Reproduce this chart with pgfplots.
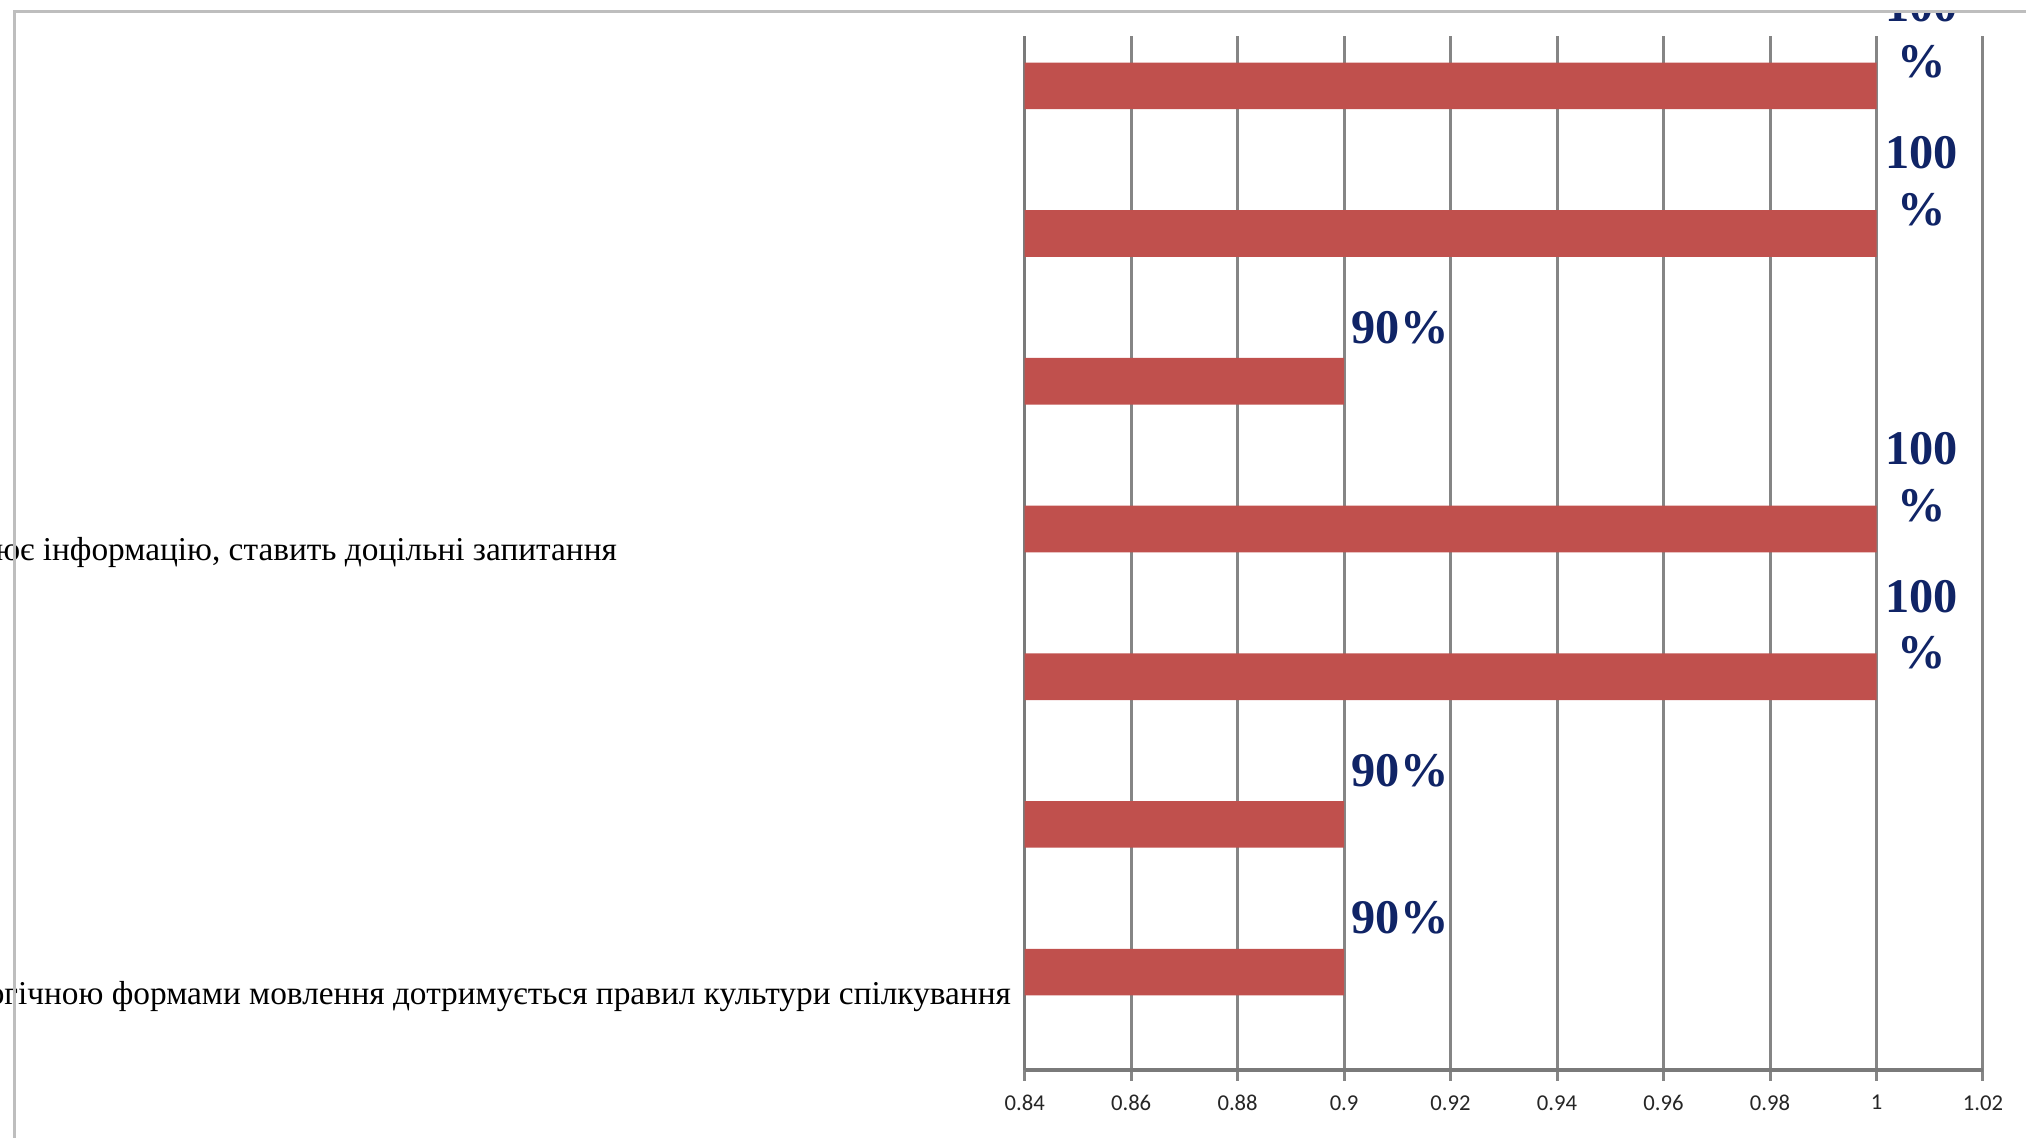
\documentclass[border=0pt]{standalone}
\usepackage{pgfplots}
\pgfplotsset{compat=1.18}
\usepackage{fontspec}
\setmainfont{Liberation Serif}
\newfontfamily\carlito{Carlito}
\definecolor{barred}{HTML}{C0504D}
\definecolor{lblnavy}{RGB}{16,36,102}
\definecolor{gridgray}{HTML}{858585}
\definecolor{axisgray}{HTML}{7A7A7A}
\definecolor{framegray}{HTML}{BEBEBE}
\begin{document}
\begin{tikzpicture}
\path[use as bounding box] (0pt,0pt) rectangle (607.8pt,341.4pt);
\clip (0pt,0pt) rectangle (607.8pt,341.4pt);
\begin{axis}[
  at={(307.4pt,20.4pt)}, anchor=south west,
  width=287.5pt, height=310.2pt, scale only axis,
  xmin=0.84, xmax=1.02, ymin=0.5, ymax=7.5,
  axis x line=bottom, axis y line=left,
  axis line style={-, draw=axisgray, line width=1pt},
  xtick={0.84,0.86,0.88,0.9,0.92,0.94,0.96,0.98,1,1.02},
  xticklabels={0.84,0.86,0.88,0.9,0.92,0.94,0.96,0.98,1,1.02},
  xmajorgrids,
  major grid style={draw=gridgray, line width=0.9pt},
  tick align=outside,
  major tick length=3.2pt,
  xtick style={draw=gridgray, line width=0.9pt},
  xticklabel style={font=\carlito\fontsize{6.8}{8}\selectfont, inner sep=0pt, text=black!85},
  xticklabel shift=4.2pt,
  ytick={1,2,3,4,5,6,7},
  yticklabels={{Володіє діалогічною та монологічною формами мовлення дотримується правил культури спілкування},,,{Уважно слухає співрозмовника, узагальнює інформацію, ставить доцільні запитання\hspace*{118.2pt}},,,},
  ytick style={draw=none},
  yticklabel style={font=\fontsize{10}{12}\selectfont, inner sep=0pt, anchor=east},
  yticklabel shift=0.7pt,
  extra y ticks={0.5,1.5,2.5,3.5,4.5,5.5,6.5,7.5},
  extra y tick labels={},
  extra y tick style={tick style={draw=gridgray, line width=0.9pt}, grid=none},
]
\addplot[xbar, bar width=14pt, bar shift=7.2pt, fill=barred, draw=none,
  nodes near coords={100\\\%},
  nodes near coords align={center},
  every node near coord/.append style={anchor=center, xshift=13.5pt, yshift=22.8pt,
    align=center, inner sep=0pt, text=lblnavy,
    font=\bfseries\fontsize{14.5}{17}\selectfont}]
  coordinates {(1,3) (1,4) (1,6) (1,7)};
\addplot[xbar, bar width=14pt, bar shift=7.2pt, fill=barred, draw=none,
  nodes near coords={90\%},
  nodes near coords align={center},
  every node near coord/.append style={anchor=center, xshift=16.8pt, yshift=23.4pt,
    inner sep=0pt, text=lblnavy,
    font=\bfseries\fontsize{14.5}{17}\selectfont}]
  coordinates {(0.9,1) (0.9,2) (0.9,5)};
\end{axis}
\fill[white] (0pt,338pt) rectangle (607.8pt,341.4pt);
\draw[framegray, line width=0.9pt] (4.2pt,-1pt) -- (4.2pt,337.8pt) -- (609pt,337.8pt);
\end{tikzpicture}
\end{document}
